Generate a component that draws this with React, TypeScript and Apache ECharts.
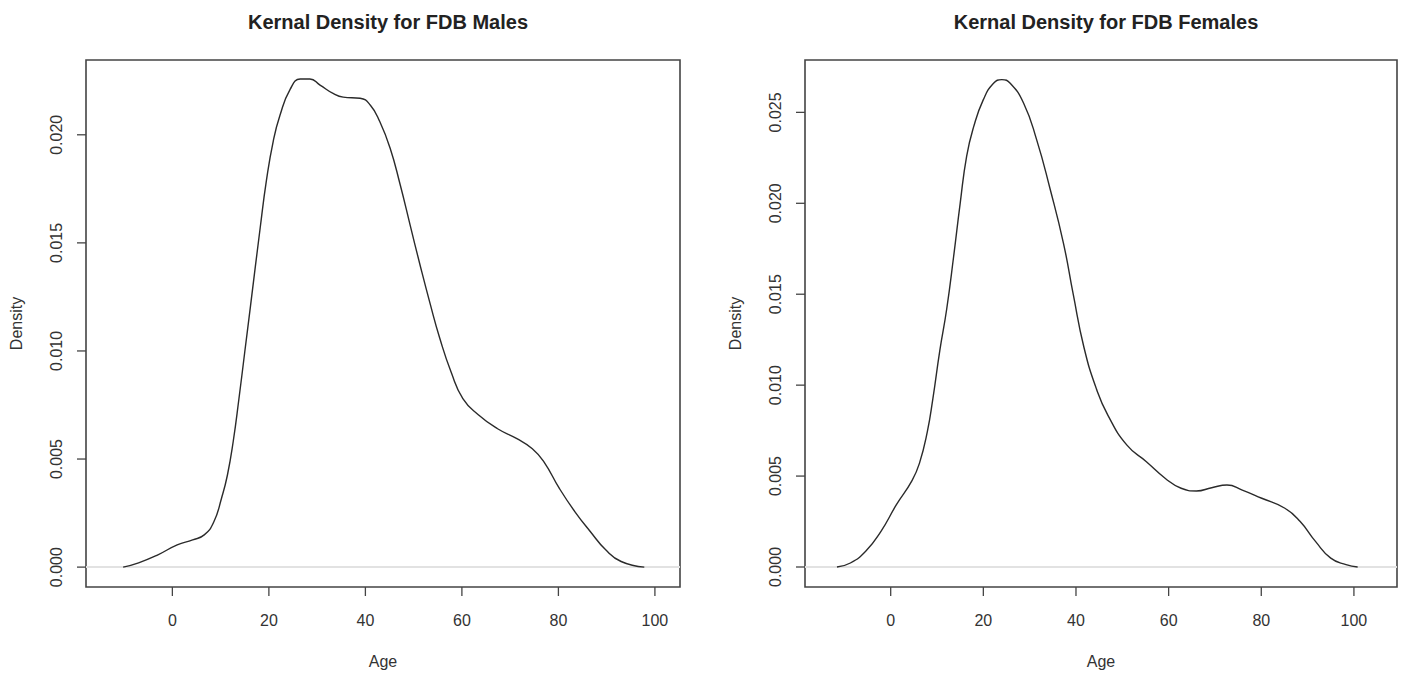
import React, { useEffect, useRef } from "react";
import * as echarts from "echarts";

const maleAge = [-10.2, -7, -3, 1, 4.2, 6.6, 8.6, 10.2, 11.4, 12.6, 13.8, 15, 16.2, 18.2, 19.5, 20.9, 22.3, 24.4, 26.5, 28.5, 30.6, 33.4, 35.4, 38.9, 41, 43, 45.1, 47.2, 49.3, 51.3, 53.4, 55.4, 57.8, 60.2, 63.4, 67.4, 71.4, 74.6, 77, 80.2, 83.4, 86.6, 89.8, 93, 97.8];
const maleDensity = [0, 0.0002, 0.00057, 0.00103, 0.00126, 0.00149, 0.0021, 0.0032, 0.00425, 0.0058, 0.0078, 0.00995, 0.0121, 0.0157, 0.0179, 0.0197, 0.0209, 0.0221, 0.02258, 0.02258, 0.0223, 0.0219, 0.02174, 0.02169, 0.02138, 0.0206, 0.0194, 0.0177, 0.0158, 0.014, 0.0122, 0.0106, 0.009, 0.0078, 0.00705, 0.0064, 0.00594, 0.00548, 0.00487, 0.00364, 0.00257, 0.00165, 0.0008, 0.00026, 0];

const femaleAge = [-11.6, -8.7, -5.4, -2.1, 1.2, 4.6, 6.2, 7.9, 9.1, 10.6, 12.1, 13.6, 15.0, 16.4, 17.9, 20.0, 22.2, 24.0, 25.8, 28.7, 31.5, 34.4, 37.3, 39.4, 41.7, 44.4, 46.9, 51.0, 55.2, 59.3, 62.7, 66.0, 69.3, 72.6, 75.9, 80.1, 85.1, 88.4, 91.7, 95.0, 98.3, 100.8];
const femaleDensity = [0, 0.00022, 0.00086, 0.00196, 0.00341, 0.00475, 0.0057, 0.00743, 0.00925, 0.0119, 0.0142, 0.0171, 0.02, 0.0226, 0.0242, 0.0257, 0.0266, 0.0268, 0.0266, 0.0255, 0.0235, 0.0208, 0.0178, 0.015, 0.0121, 0.0098, 0.00834, 0.0067, 0.00579, 0.00487, 0.00433, 0.00418, 0.00436, 0.00451, 0.00423, 0.00378, 0.00323, 0.0025, 0.00141, 0.00049, 0.00013, 0];

const xTicks = [0, 20, 40, 60, 80, 100];
const maleYTicks = [0, 0.005, 0.01, 0.015, 0.02];
const femaleYTicks = [0, 0.005, 0.01, 0.015, 0.02, 0.025];

const titles = ["Kernal Density for FDB Males", "Kernal Density for FDB Females"];

const maleXRange = [-17.9, 105.2];
const maleYRange = [-0.00092, 0.02346];
const femaleXRange = [-18.5, 109.3];
const femaleYRange = [-0.0011, 0.02788];

const FONT = "'Liberation Sans', Arial, sans-serif";
const TXT = "#333";
const AX = "#444";
const TICK_LEN = 9;

function xAxisOf(gridIndex: number, range: number[]) {
  return {
    type: "value",
    gridIndex,
    min: range[0],
    max: range[1],
    position: "bottom",
    name: "Age",
    nameLocation: "middle",
    nameGap: 66,
    nameTextStyle: { fontFamily: FONT, fontSize: 16, color: TXT },
    axisLine: { show: false, onZero: false },
    splitLine: { show: false },
    axisTick: { show: false },
    axisLabel: {
      show: true,
      margin: 25,
      fontFamily: FONT,
      fontSize: 16,
      color: TXT,
      customValues: xTicks,
      formatter: (v: number) => String(v),
    },
  };
}

function yAxisOf(gridIndex: number, range: number[], ticks: number[]) {
  return {
    type: "value",
    gridIndex,
    min: range[0],
    max: range[1],
    position: "left",
    name: "Density",
    nameLocation: "middle",
    nameRotate: 90,
    nameGap: 62,
    nameTextStyle: { fontFamily: FONT, fontSize: 16, color: TXT },
    axisLine: { show: false, onZero: false },
    splitLine: { show: false },
    axisTick: { show: false },
    axisLabel: {
      show: true,
      rotate: 90,
      margin: 22,
      fontFamily: FONT,
      fontSize: 16,
      color: TXT,
      customValues: ticks,
      formatter: (v: number) => v.toFixed(3),
    },
  };
}

function seriesOf(idx: number, xs: number[], ys: number[]) {
  return {
    type: "line",
    xAxisIndex: idx,
    yAxisIndex: idx,
    data: xs.map((x, i) => [x, ys[i]]),
    showSymbol: false,
    smooth: 0.5,
    clip: false,
    lineStyle: { color: "#2a2a2a", width: 1.4 },
    silent: true,
    z: 3,
    markLine: {
      silent: true,
      symbol: "none",
      label: { show: false },
      lineStyle: { color: "#e2e2e2", width: 2, type: "solid" },
      data: [{ yAxis: 0 }],
      z: 1,
    },
  };
}

export default function App() {
  const ref = useRef<HTMLDivElement>(null);
  useEffect(() => {
    if (!ref.current) return;
    const chart = echarts.init(ref.current, undefined, { renderer: "svg" });

    const panels = [
      { grid: 0, xr: maleXRange, yr: maleYRange, yt: maleYTicks },
      { grid: 1, xr: femaleXRange, yr: femaleYRange, yt: femaleYTicks },
    ];

    const baseOption: any = {
      animation: false,
      backgroundColor: "#ffffff",
      title: [
        {
          text: titles[0],
          left: 383,
          top: 7,
          textAlign: "center",
          textStyle: { fontFamily: FONT, fontSize: 20, fontWeight: "bold", color: "#222" },
        },
        {
          text: titles[1],
          left: 1101,
          top: 7,
          textAlign: "center",
          textStyle: { fontFamily: FONT, fontSize: 20, fontWeight: "bold", color: "#222" },
        },
      ],
      grid: [
        { left: 86, right: 722, top: 60, height: 529, show: true, borderColor: "#444", borderWidth: 1.6, backgroundColor: "transparent" },
        { left: 805, right: 5, top: 60, height: 529, show: true, borderColor: "#444", borderWidth: 1.6, backgroundColor: "transparent" },
      ],
      xAxis: [xAxisOf(0, maleXRange), xAxisOf(1, femaleXRange)],
      yAxis: [yAxisOf(0, maleYRange, maleYTicks), yAxisOf(1, femaleYRange, femaleYTicks)],
      series: [seriesOf(0, maleAge, maleDensity), seriesOf(1, femaleAge, femaleDensity)],
    };
    chart.setOption(baseOption);

    // Tick marks, positioned through the chart's own scales.
    const tickEls: any[] = [];
    panels.forEach((pn) => {
      pn.yt.forEach((v) => {
        const p = chart.convertToPixel({ gridIndex: pn.grid }, [pn.xr[0], v]) as number[];
        if (!p) return;
        tickEls.push({
          type: "line",
          silent: true,
          z: 100,
          shape: { x1: p[0] - TICK_LEN, y1: p[1], x2: p[0], y2: p[1] },
          style: { stroke: AX, lineWidth: 1.3 },
        });
      });
      xTicks.forEach((v) => {
        const p = chart.convertToPixel({ gridIndex: pn.grid }, [v, pn.yr[0]]) as number[];
        if (!p) return;
        tickEls.push({
          type: "line",
          silent: true,
          z: 100,
          shape: { x1: p[0], y1: p[1], x2: p[0], y2: p[1] + TICK_LEN },
          style: { stroke: AX, lineWidth: 1.3 },
        });
      });
    });
    chart.setOption({ graphic: tickEls });

    return () => chart.dispose();
  }, []);
  return (
    <div
      ref={ref}
      style={{ position: "fixed", left: 0, top: 0, width: 1402, height: 674, background: "#fff" }}
    />
  );
}
